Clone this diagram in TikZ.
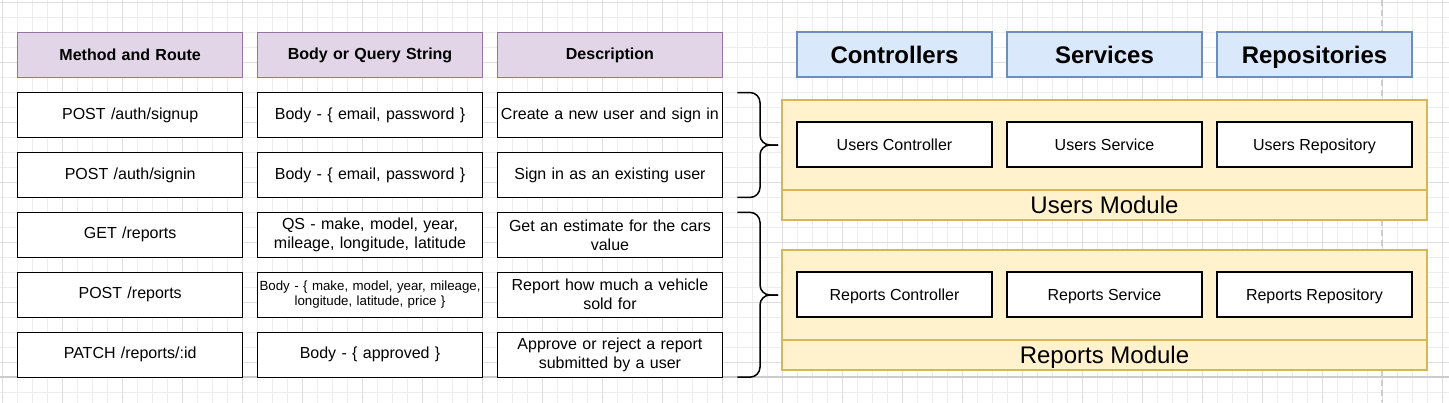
\documentclass[tikz,border=0pt]{standalone}
\usepackage{fontspec}
\setmainfont{Liberation Sans}
\usetikzlibrary{matrix,positioning}

\definecolor{headfill}{HTML}{E1D5E7}
\definecolor{headline}{HTML}{9673A6}
\definecolor{layerfill}{HTML}{DAE8FC}
\definecolor{layerline}{HTML}{6C8EBF}
\definecolor{modfill}{HTML}{FFF2CC}
\definecolor{modline}{HTML}{D6B656}
\definecolor{gridlo}{HTML}{EDEDED}
\definecolor{gridhi}{HTML}{DEDEDE}
\definecolor{breakline}{HTML}{CCCCCC}

\begin{document}
\begin{tikzpicture}[x=1pt,y=-1pt,
  cell/.style={draw=black, line width=1.3pt, fill=white, anchor=center,
    minimum width=225pt, minimum height=45pt, text width=221pt, inner sep=2pt,
    outer sep=0pt, align=center, font=\fontsize{16}{19}\selectfont},
  head/.style={draw=headline, fill=headfill, font=\fontsize{16}{19}\selectfont\bfseries},
  small/.style={font=\fontsize{13.3}{15}\selectfont, text width=224pt, inner sep=0.5pt},
  layer/.style={draw=layerline, line width=1.3pt, fill=layerfill,
    minimum width=195pt, minimum height=45pt, outer sep=0pt,
    text height=17pt, text depth=0pt,
    font=\fontsize{24}{28}\selectfont\bfseries},
  unit/.style={draw=black, line width=1.3pt, fill=white,
    minimum width=195pt, minimum height=45pt, outer sep=0pt,
    text height=11.5pt, text depth=0pt,
    font=\fontsize{16}{19}\selectfont},
  module/.style={draw=modline, line width=1.3pt, fill=modfill,
    minimum width=645pt, minimum height=120pt, outer sep=0pt},
  modname/.style={font=\fontsize{24}{28}\selectfont, inner sep=0pt,
    text height=17pt, text depth=0pt},
  brace/.style={draw=black, line width=1.5pt, rounded corners=10pt}]

\useasboundingbox (0,0) rectangle (1449,402);
\fill[white] (0,0) rectangle (1449,402);

% background grid
\begin{scope}[shift={(2,2)}]
  \clip (-2,-2) rectangle (1447,400);
  \draw[gridlo, line width=0.8pt, step=15pt] (-15,-15) grid (1455,405);
  \draw[gridhi, line width=0.8pt, step=60pt] (-60,-60) grid (1500,420);
\end{scope}
\draw[breakline, line width=1.2pt, dash pattern=on 6pt off 4pt] (1382,0) -- (1382,402);
\draw[breakline, line width=1.5pt] (0,377) -- (1449,377);

% routes table
\matrix (tbl) [matrix of nodes, anchor=north west, inner sep=0pt, outer sep=0pt,
  column sep=13.6pt, row sep=13.6pt, nodes={cell}, row 1/.style={nodes={head}}] at (17,32)
{
Method and Route & Body or Query String & Description \\
POST /auth/signup & Body - \{ email, password \} & Create a new user and sign in \\
POST /auth/signin & Body - \{ email, password \} & Sign in as an existing user \\
GET /reports & {QS - make, model, year,\\ mileage, longitude, latitude} & {Get an estimate for the cars\\ value} \\
POST /reports & |[small]| {Body - \{ make, model, year, mileage,\\ longitude, latitude, price \}} & {Report how much a vehicle\\ sold for} \\
PATCH /reports/:id & Body - \{ approved \} & {Approve or reject a report\\ submitted by a user} \\
};

% layers
\node[layer] (ctrl) at (894.5,54.5) {Controllers};
\node[layer, right=15pt of ctrl] (svc) {Services};
\node[layer, right=15pt of svc] (repo) {Repositories};

% users module
\node[module] (umod) at (1104.5,160) {};
\draw[modline, line width=1.3pt] ([yshift=30pt]umod.south west) -- ([yshift=30pt]umod.south east);
\node[modname] at ([yshift=15pt]umod.south) {Users Module};
\node[unit] (uctrl) at (894.5,144.5) {Users Controller};
\node[unit, right=15pt of uctrl] (usvc) {Users Service};
\node[unit, right=15pt of usvc] (urepo) {Users Repository};

% reports module
\node[module] (rmod) at (1104.5,310) {};
\draw[modline, line width=1.3pt] ([yshift=30pt]rmod.south west) -- ([yshift=30pt]rmod.south east);
\node[modname] at ([yshift=15pt]rmod.south) {Reports Module};
\node[unit] (rctrl) at (894.5,294.5) {Reports Controller};
\node[unit, right=15pt of rctrl] (rsvc) {Reports Service};
\node[unit, right=15pt of rsvc] (rrepo) {Reports Repository};

% braces
\coordinate (ubrace) at (760,145);
\coordinate (rbrace) at (760,295);
\draw[brace] ([xshift=15pt]tbl-2-3.north east) -| (ubrace) -- ++(18,0);
\draw[brace] ([xshift=15pt]tbl-3-3.south east) -| (ubrace) -- ++(18,0);
\draw[brace] ([xshift=15pt]tbl-4-3.north east) -| (rbrace) -- ++(18,0);
\draw[brace] ([xshift=15pt]tbl-6-3.south east) -| (rbrace) -- ++(18,0);
\end{tikzpicture}
\end{document}
